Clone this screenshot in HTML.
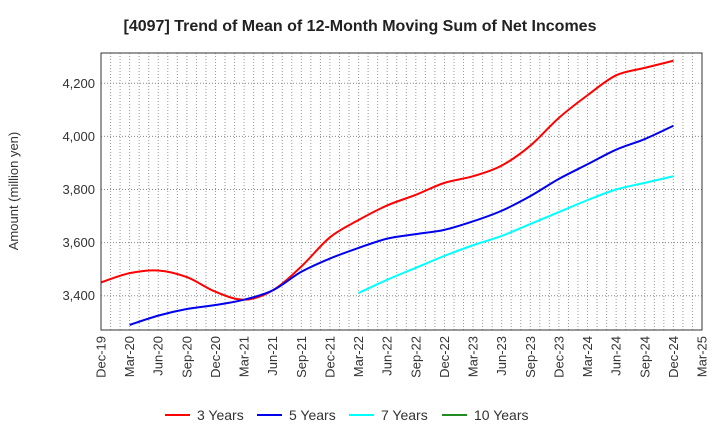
<!DOCTYPE html>
<html><head><meta charset="utf-8"><style>
body{margin:0;background:#fff;}
svg{font-family:"Liberation Sans",Arial,sans-serif;display:block;}
</style></head><body>
<svg id="chart" width="720" height="440" viewBox="0 0 720 440">
<text x="360" y="31" text-anchor="middle" font-size="16" font-weight="bold" fill="#222">[4097]  Trend of Mean of 12-Month Moving Sum of Net Incomes</text>
<text transform="translate(18,191) rotate(-90)" text-anchor="middle" font-size="13" fill="#333">Amount (million yen)</text>
<g id="grid"></g>
<g id="series"></g>
<rect x="101" y="53" width="601" height="277" fill="none" stroke="#333" stroke-width="1"/>
<g id="yticks"></g>
<g id="xticks"></g>
<g id="legend"></g>
</svg>
<script>
const xLabels=["Dec-19","Mar-20","Jun-20","Sep-20","Dec-20","Mar-21","Jun-21","Sep-21","Dec-21","Mar-22","Jun-22","Sep-22","Dec-22","Mar-23","Jun-23","Sep-23","Dec-23","Mar-24","Jun-24","Sep-24","Dec-24","Mar-25"];
const yTicks=[3400,3600,3800,4000,4200];
const s3=[3450,3485,3495,3470,3415,3385,3420,3510,3620,3685,3740,3780,3825,3850,3890,3965,4070,4155,4230,4258,4285];
const s5=[null,3290,3325,3350,3365,3385,3420,3490,3540,3580,3615,3632,3648,3680,3720,3775,3840,3895,3950,3990,4040];
const s7=[null,null,null,null,null,null,null,null,null,3410,3460,3505,3550,3590,3625,3670,3715,3760,3800,3825,3850];
const s10=[];
const seriesNames=["3 Years","5 Years","7 Years","10 Years"];
const colors=["#ff0000","#0000ee","#00ffff","#228b22"];
const NS="http://www.w3.org/2000/svg";
const L=101,R=702,T=53,B=330;
const qStep=(R-L)/(xLabels.length-1);
const xq=i=>L+i*qStep;
const y=v=>295.7-(v-3400)*(212.4/800);
function mk(tag,attrs,parent){const e=document.createElementNS(NS,tag);for(const k in attrs)e.setAttribute(k,attrs[k]);parent.appendChild(e);return e;}
const grid=document.getElementById('grid');
for(let m=1;m<(xLabels.length-1)*3;m++){const x=L+m*qStep/3;
 const ln=mk('line',{x1:x,x2:x,y1:T,y2:B,stroke:'#999','stroke-dasharray':'1,2','stroke-width':1},grid);
 }
const yt=document.getElementById('yticks');
yTicks.forEach(v=>{const ln=mk('line',{x1:L,x2:R,y1:y(v),y2:y(v),stroke:'#888','stroke-dasharray':'1,2'},grid);
 
 const t=mk('text',{x:L-6,y:y(v)+4.5,'text-anchor':'end','font-size':13,fill:'#333'},yt);t.textContent=v.toLocaleString('en-US');
 });
const xt=document.getElementById('xticks');
xLabels.forEach((lab,i)=>{const x=xq(i);
 const t=mk('text',{transform:`translate(${x+4.5},${B+6}) rotate(-90)`,'text-anchor':'end','font-size':13,fill:'#333'},xt);t.textContent=lab;
 });
function path(pts){if(pts.length<2)return '';let d=`M${pts[0][0]},${pts[0][1]}`;
 for(let i=0;i<pts.length-1;i++){const p0=pts[Math.max(0,i-1)],p1=pts[i],p2=pts[i+1],p3=pts[Math.min(pts.length-1,i+2)];
 const c1=[p1[0]+(p2[0]-p0[0])/6,p1[1]+(p2[1]-p0[1])/6],c2=[p2[0]-(p3[0]-p1[0])/6,p2[1]-(p3[1]-p1[1])/6];
 d+=` C${c1[0]},${c1[1]} ${c2[0]},${c2[1]} ${p2[0]},${p2[1]}`;}return d;}
const sg=document.getElementById('series');
[s3,s5,s7,s10].forEach((s,k)=>{const pts=[];s.forEach((v,i)=>{if(v!=null)pts.push([xq(i),y(v)]);});
 if(pts.length<2)return;
 const p=mk('path',{d:path(pts),fill:'none',stroke:colors[k],'stroke-width':2},sg);
 
 });
const lg=document.getElementById('legend');
const lx=[165,257,349,442];
seriesNames.forEach((n,k)=>{const g=mk('g',{},lg);
 
 
 mk('line',{x1:lx[k],x2:lx[k]+25,y1:415,y2:415,stroke:colors[k],'stroke-width':2},g);
 const t=mk('text',{x:lx[k]+32,y:420,'font-size':14,fill:'#333'},g);t.textContent=n;});
</script>
</body></html>
